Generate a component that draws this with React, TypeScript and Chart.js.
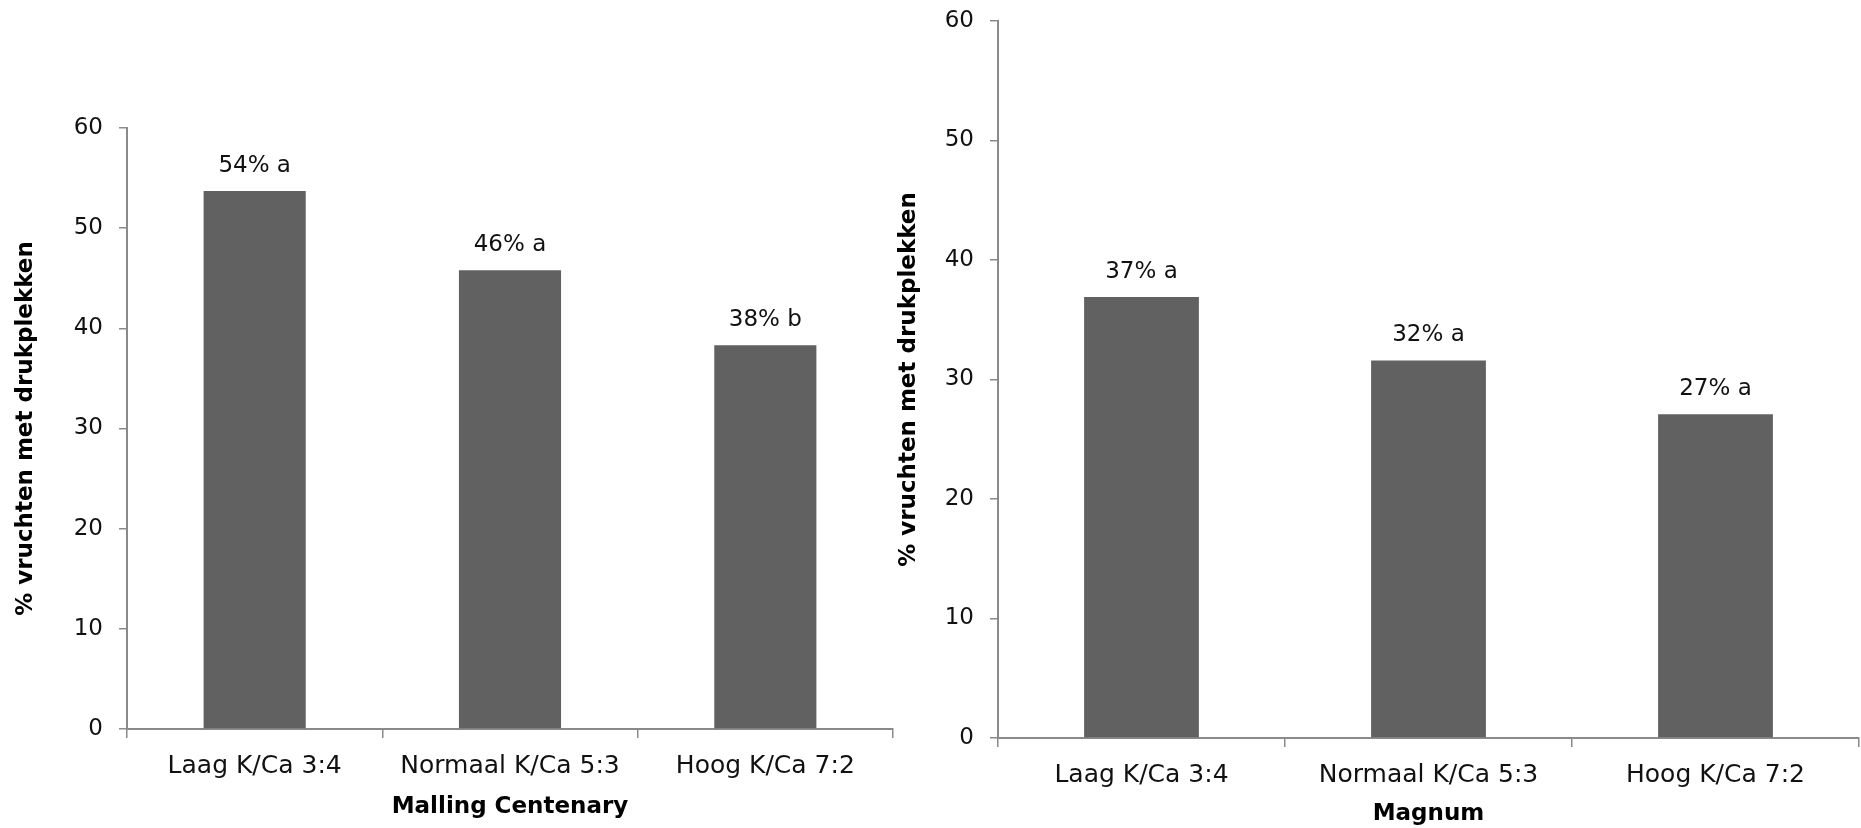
import React, { useEffect, useRef } from 'react';
import { Chart, registerables } from 'chart.js';

Chart.register(...registerables);

const categories = ['Laag K/Ca 3:4', 'Normaal K/Ca 5:3', 'Hoog K/Ca 7:2'];
const mallingValues = [53.7, 45.8, 38.3];
const mallingLabels = ['54% a', '46% a', '38% b'];
const magnumValues = [36.9, 31.6, 27.1];
const magnumLabels = ['37% a', '32% a', '27% a'];
const yMin = 0;
const yMax = 60;
const yStep = 10;
const yTitle = '% vruchten met drukplekken';

const FONT = 'DejaVu Sans';
const BAR = '#616161';
const AXIS = '#8a8a8a';

type Geo = {
  width: number;
  yWidth: number;
  xHeight: number;
  top: number;
  right: number;
  yTitlePad: number;
  xTitlePad: number;
  xTickPad: number;
};

function makeChart(canvas: HTMLCanvasElement, values: number[], labels: string[], xTitle: string, g: Geo) {
  const labelPlugin = {
    id: 'barLabels',
    afterDatasetsDraw(chart: any) {
      const ctx = chart.ctx;
      const meta = chart.getDatasetMeta(0);
      ctx.save();
      ctx.font = `23px "${FONT}"`;
      ctx.fillStyle = '#111';
      ctx.textAlign = 'center';
      ctx.textBaseline = 'middle';
      meta.data.forEach((el: any, i: number) => {
        ctx.fillText(labels[i], el.x, el.y - 25);
      });
      ctx.restore();
    },
  };
  return new Chart(canvas, {
    type: 'bar',
    data: {
      labels: categories,
      datasets: [
        {
          data: values,
          backgroundColor: BAR,
          borderWidth: 0,
          categoryPercentage: 1,
          barPercentage: 0.4,
        },
      ],
    },
    options: {
      responsive: false,
      animation: false,
      layout: { padding: { left: 0, top: g.top, right: g.right, bottom: 0 } },
      plugins: { legend: { display: false }, tooltip: { enabled: false } },
      scales: {
        x: {
          offset: true,
          grid: { offset: true, drawOnChartArea: false, drawTicks: true, tickLength: 9, color: AXIS, lineWidth: 1.5 },
          border: { display: true, color: AXIS, width: 2 },
          ticks: { font: { family: FONT, size: 25 }, color: '#111', padding: g.xTickPad, maxRotation: 0 },
          title: {
            display: true,
            text: xTitle,
            font: { family: FONT, size: 23, weight: 'bold' },
            color: '#000',
            padding: { top: 0, bottom: g.xTitlePad },
          },
          afterFit: (s: any) => {
            s.height = g.xHeight;
            s.paddingLeft = 0;
            s.paddingRight = 0;
          },
        },
        y: {
          min: yMin,
          max: yMax,
          ticks: { stepSize: yStep, font: { family: FONT, size: 23 }, color: '#111', padding: 16 },
          grid: { drawOnChartArea: false, drawTicks: true, tickLength: 8, color: AXIS, lineWidth: 1.5 },
          border: { display: true, color: AXIS, width: 2 },
          title: {
            display: true,
            text: yTitle,
            font: { family: FONT, size: 23, weight: 'bold' },
            color: '#000',
            padding: { top: g.yTitlePad, bottom: 0 },
          },
          afterFit: (s: any) => {
            s.width = g.yWidth;
            s.paddingTop = 10;
            s.paddingBottom = 10;
          },
        },
      },
    },
    plugins: [labelPlugin],
  } as any);
}

const LEFT_W = 895;
const RIGHT_W = 1861 - LEFT_W;

export default function App() {
  const leftRef = useRef<HTMLCanvasElement>(null);
  const rightRef = useRef<HTMLCanvasElement>(null);

  useEffect(() => {
    const c1 = makeChart(leftRef.current!, mallingValues, mallingLabels, 'Malling Centenary', {
      width: LEFT_W,
      yWidth: 127,
      xHeight: 828 - 729,
      top: 128,
      right: LEFT_W - 893,
      yTitlePad: 12.5,
      xTitlePad: 7,
      xTickPad: 13.5,
    });
    const c2 = makeChart(rightRef.current!, magnumValues, magnumLabels, 'Magnum', {
      width: RIGHT_W,
      yWidth: 998 - LEFT_W,
      xHeight: 828 - 738,
      top: 21,
      right: 2,
      yTitlePad: 0,
      xTitlePad: 0,
      xTickPad: 13,
    });
    return () => {
      c1.destroy();
      c2.destroy();
    };
  }, []);

  return (
    <div style={{ position: 'fixed', left: 0, top: 0, width: 1861, height: 828, background: '#fff' }}>
      <canvas
        ref={leftRef}
        width={LEFT_W}
        height={828}
        style={{ position: 'absolute', left: 0, top: 0, width: LEFT_W, height: 828 }}
      />
      <canvas
        ref={rightRef}
        width={RIGHT_W}
        height={828}
        style={{ position: 'absolute', left: LEFT_W, top: 0, width: RIGHT_W, height: 828 }}
      />
    </div>
  );
}
